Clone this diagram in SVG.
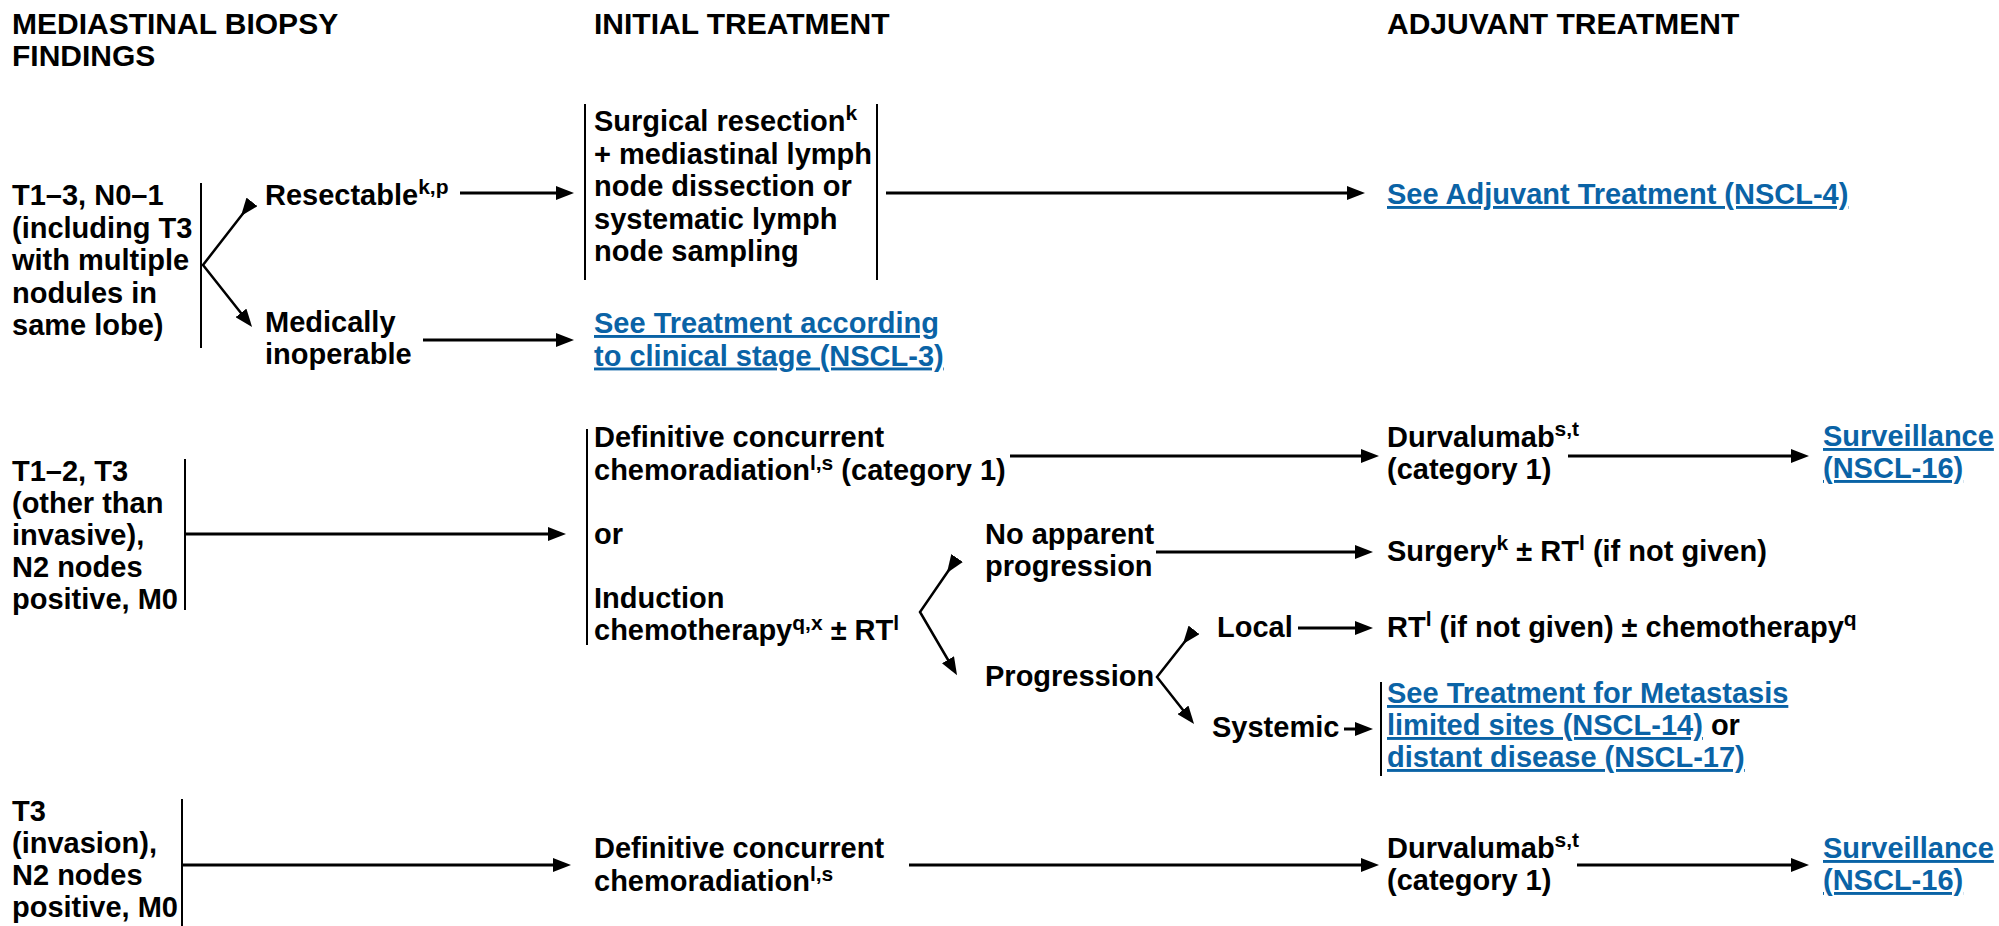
<svg xmlns="http://www.w3.org/2000/svg" width="1999" height="926" viewBox="0 0 1999 926">
<defs>
<style>
.t{font-family:"Liberation Sans",Arial,Helvetica,sans-serif;font-weight:bold;font-size:29px;fill:#000}
.h{font-size:30px}
.lk{fill:#0a63a6;text-decoration:underline}
.sup{font-size:21px}
.c{stroke:#000;stroke-width:3;fill:none}
.d{stroke:#000;stroke-width:2.5;fill:none}
.v{stroke:#000;stroke-width:2;fill:none}
</style>
<marker id="ah" viewBox="0 0 18 14" markerWidth="18" markerHeight="14" refX="9" refY="7" orient="auto" markerUnits="userSpaceOnUse">
<path d="M0,0 L18,7 L0,14 z" fill="#000"/>
</marker>
</defs>
<rect width="1999" height="926" fill="#fff"/>

<g id="headers" class="t h">
<text x="12" y="34">MEDIASTINAL BIOPSY</text>
<text x="12" y="66">FINDINGS</text>
<text x="594" y="34">INITIAL TREATMENT</text>
<text x="1387" y="34">ADJUVANT TREATMENT</text>
</g>

<g id="connectors">
<line class="v" x1="201" y1="183" x2="201" y2="348"/>
<polyline class="d" points="246.5,209 203,265 246.5,320" marker-start="url(#ah)" marker-end="url(#ah)"/>
<line class="c" x1="460" y1="193" x2="565" y2="193" marker-end="url(#ah)"/>
<line class="c" x1="423" y1="340" x2="565" y2="340" marker-end="url(#ah)"/>
<line class="v" x1="585" y1="104" x2="585" y2="280"/>
<line class="v" x1="877" y1="104" x2="877" y2="280"/>
<line class="c" x1="886" y1="193" x2="1356" y2="193" marker-end="url(#ah)"/>

<line class="v" x1="185" y1="459" x2="185" y2="610"/>
<line class="c" x1="185" y1="534" x2="557" y2="534" marker-end="url(#ah)"/>
<line class="v" x1="587" y1="429" x2="587" y2="645"/>
<line class="c" x1="1010" y1="456" x2="1370" y2="456" marker-end="url(#ah)"/>
<line class="c" x1="1568" y1="456" x2="1800" y2="456" marker-end="url(#ah)"/>
<polyline class="d" points="952,565.5 920,612 952.5,667.5" marker-start="url(#ah)" marker-end="url(#ah)"/>
<line class="c" x1="1156" y1="552" x2="1364" y2="552" marker-end="url(#ah)"/>
<polyline class="d" points="1188.5,637 1157,677 1188.5,717" marker-start="url(#ah)" marker-end="url(#ah)"/>
<line class="c" x1="1298" y1="628" x2="1364" y2="628" marker-end="url(#ah)"/>
<line class="c" x1="1344" y1="729" x2="1364" y2="729" marker-end="url(#ah)"/>
<line class="v" x1="1381" y1="682" x2="1381" y2="776"/>

<line class="v" x1="182" y1="799" x2="182" y2="926"/>
<line class="c" x1="182" y1="865" x2="562" y2="865" marker-end="url(#ah)"/>
<line class="c" x1="909" y1="865" x2="1370" y2="865" marker-end="url(#ah)"/>
<line class="c" x1="1577" y1="865" x2="1800" y2="865" marker-end="url(#ah)"/>
</g>

<g id="n-row1-finding" class="t">
<text x="12" y="205">T1–3, N0–1</text>
<text x="12" y="237.5">(including T3</text>
<text x="12" y="270">with multiple</text>
<text x="12" y="302.5">nodules in</text>
<text x="12" y="335">same lobe)</text>
</g>
<g id="n-resectable" class="t">
<text x="265" y="205">Resectable<tspan class="sup" dy="-11">k,p</tspan></text>
</g>
<g id="n-inoperable" class="t">
<text x="265" y="332">Medically</text>
<text x="265" y="364">inoperable</text>
</g>
<g id="n-surgical" class="t">
<text x="594" y="131">Surgical resection<tspan class="sup" dy="-11">k</tspan></text>
<text x="594" y="163.5">+ mediastinal lymph</text>
<text x="594" y="196">node dissection or</text>
<text x="594" y="228.5">systematic lymph</text>
<text x="594" y="261">node sampling</text>
</g>
<g id="n-nscl3" class="t lk">
<text x="594" y="333">See Treatment according</text>
<text x="594" y="365.5">to clinical stage (NSCL-3)</text>
</g>
<g id="n-nscl4" class="t lk">
<text x="1387" y="204">See Adjuvant Treatment (NSCL-4)</text>
</g>

<g id="n-row2-finding" class="t">
<text x="12" y="480.5">T1–2, T3</text>
<text x="12" y="512.5">(other than</text>
<text x="12" y="544.5">invasive),</text>
<text x="12" y="576.5">N2 nodes</text>
<text x="12" y="608.5">positive, M0</text>
</g>
<g id="n-row2-initial" class="t">
<text x="594" y="447">Definitive concurrent</text>
<text x="594" y="480">chemoradiation<tspan class="sup" dy="-10">l,s</tspan><tspan dy="10"> (category 1)</tspan></text>
<text x="594" y="544">or</text>
<text x="594" y="608">Induction</text>
<text x="594" y="640">chemotherapy<tspan class="sup" dy="-10">q,x</tspan><tspan dy="10"> ± RT</tspan><tspan class="sup" dy="-10">l</tspan></text>
</g>
<g id="n-row2-durva" class="t">
<text x="1387" y="447">Durvalumab<tspan class="sup" dy="-11">s,t</tspan></text>
<text x="1387" y="479">(category 1)</text>
</g>
<g id="n-row2-surv" class="t lk">
<text x="1823" y="446">Surveillance</text>
<text x="1823" y="478">(NSCL-16)</text>
</g>
<g id="n-noprog" class="t">
<text x="985" y="544">No apparent</text>
<text x="985" y="576">progression</text>
</g>
<g id="n-surgery" class="t">
<text x="1387" y="561">Surgery<tspan class="sup" dy="-11">k</tspan><tspan dy="11"> ± RT</tspan><tspan class="sup" dy="-11">l</tspan><tspan dy="11"> (if not given)</tspan></text>
</g>
<g id="n-prog" class="t">
<text x="985" y="686">Progression</text>
</g>
<g id="n-local" class="t">
<text x="1217" y="637">Local</text>
</g>
<g id="n-local-tx" class="t">
<text x="1387" y="637">RT<tspan class="sup" dy="-11">l</tspan><tspan dy="11"> (if not given) ± chemotherapy</tspan><tspan class="sup" dy="-11">q</tspan></text>
</g>
<g id="n-systemic" class="t">
<text x="1212" y="737">Systemic</text>
</g>
<g id="n-metastasis" class="t">
<text x="1387" y="703" class="lk">See Treatment for Metastasis</text>
<text x="1387" y="735"><tspan class="lk">limited sites (NSCL-14)</tspan> or</text>
<text x="1387" y="767" class="lk">distant disease (NSCL-17)</text>
</g>

<g id="n-row3-finding" class="t">
<text x="12" y="821">T3</text>
<text x="12" y="853">(invasion),</text>
<text x="12" y="885">N2 nodes</text>
<text x="12" y="917">positive, M0</text>
</g>
<g id="n-row3-initial" class="t">
<text x="594" y="858">Definitive concurrent</text>
<text x="594" y="891">chemoradiation<tspan class="sup" dy="-10">l,s</tspan></text>
</g>
<g id="n-row3-durva" class="t">
<text x="1387" y="858">Durvalumab<tspan class="sup" dy="-11">s,t</tspan></text>
<text x="1387" y="890">(category 1)</text>
</g>
<g id="n-row3-surv" class="t lk">
<text x="1823" y="858">Surveillance</text>
<text x="1823" y="890">(NSCL-16)</text>
</g>
</svg>
